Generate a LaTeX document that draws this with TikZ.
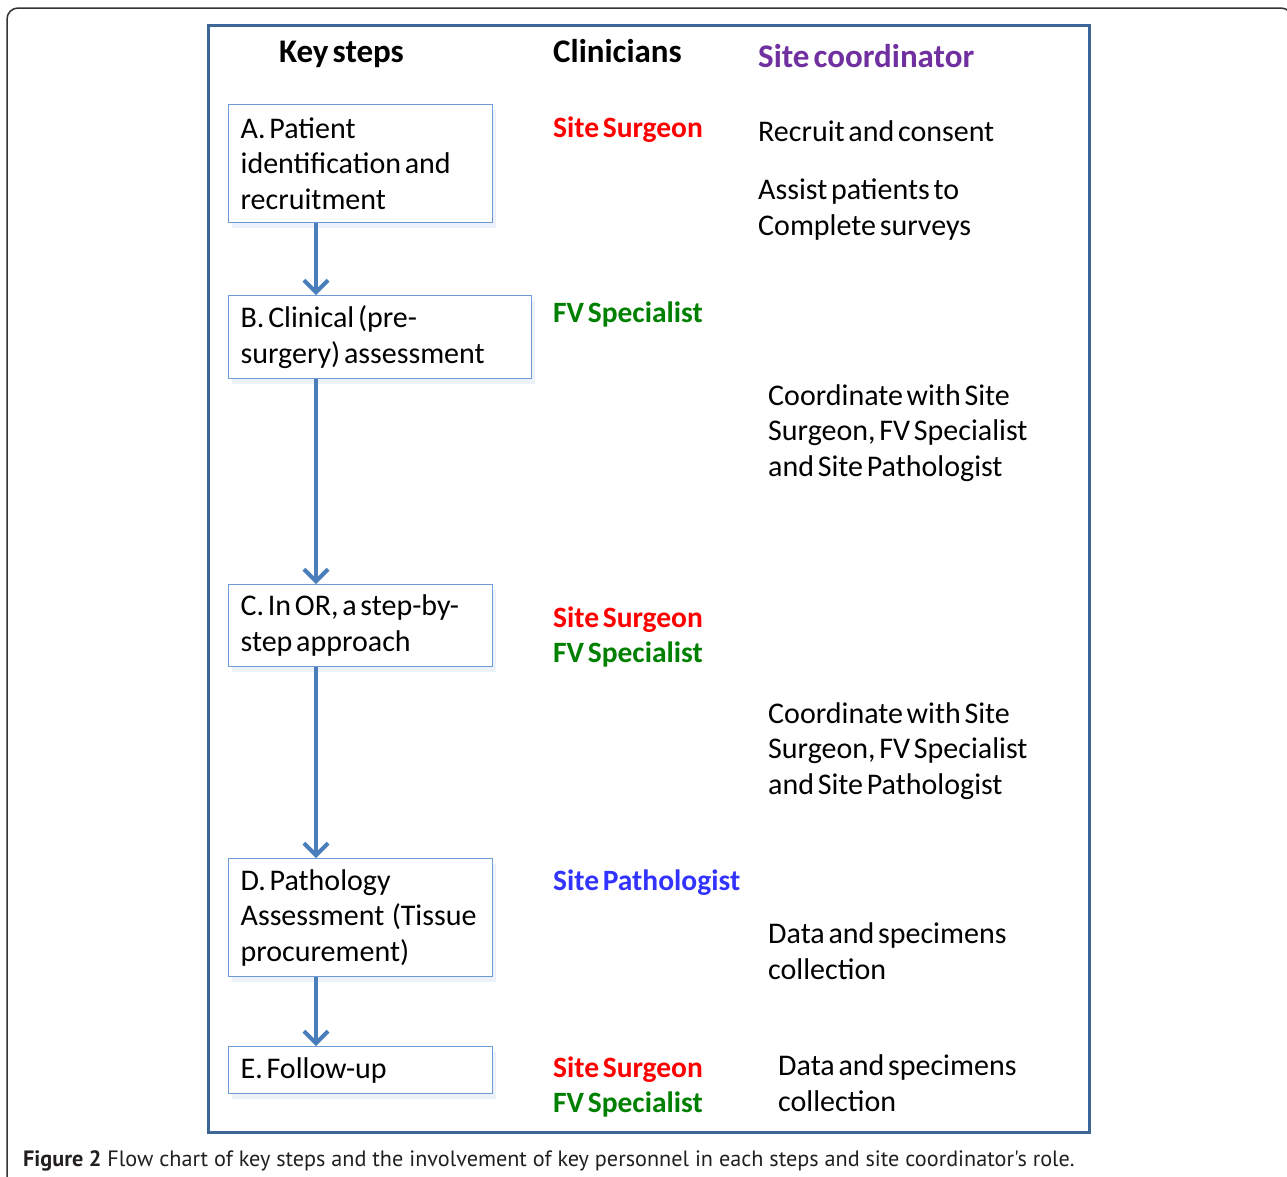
\documentclass[tikz,border=0pt]{standalone}
\usepackage{fontspec}
\setmainfont{Carlito}[WordSpace=0.55]
\newfontfamily\captionfont{PT Sans}
\usepackage{xcolor}
\usetikzlibrary{arrows.meta, calc, positioning, shadows}
\definecolor{frameblue}{RGB}{61,101,150}
\definecolor{arrowblue}{RGB}{74,126,187}
\definecolor{boxblue}{RGB}{110,155,214}
\definecolor{surgeonred}{RGB}{255,0,0}
\definecolor{specgreen}{RGB}{0,128,0}
\definecolor{pathblue}{RGB}{51,51,255}
\definecolor{coordpurple}{RGB}{112,48,160}
\definecolor{captiongray}{RGB}{35,31,32}
\frenchspacing

\tikzset{
    stepbox/.style={draw=boxblue, line width=1.3pt, fill=white, anchor=north west,
        align=flush left, inner xsep=12pt, inner ysep=0pt,
        font=\fontsize{30}{35.5}\selectfont,
        drop shadow={opacity=0.12, shadow xshift=3pt, shadow yshift=-5pt, fill=boxblue}},
    steparrow/.style={arrowblue, line width=4pt, -{Straight Barb[length=12pt, width=24pt, line width=4pt]}},
    heading/.style={anchor=base west, inner sep=0pt, font=\fontsize{33}{35}\selectfont\bfseries},
    person/.style={anchor=base west, inner sep=0pt, align=left, font=\fontsize{29.5}{35}\selectfont\bfseries},
    duty/.style={anchor=base west, inner sep=0pt, align=left, font=\fontsize{30}{35.5}\selectfont},
}

\begin{document}
\begin{tikzpicture}[x=1pt, y=-1pt]
    \useasboundingbox (0,0) rectangle (1287,1176);
    \fill[white] (0,0) rectangle (1287,1176);
    % page frames
    \draw[black!80, line width=1.5pt, rounded corners=11pt] (7,1200) -- (7,8) -- (1292,8) -- (1292,1200);
    \draw[frameblue, line width=3pt] (208,25) rectangle (1089,1132);

    % column headings
    \node[heading] (hsteps) at (279,62) {Key steps};
    \node[heading] (hclin) at (553,62) {Clinicians};
    \node[heading, coordpurple] (hcoord) at (758,67) {Site coordinator};

    % key steps
    \node[stepbox, text width=240pt, minimum height=118pt] (A) at (228,104) {A. Patient\\identification and\\recruitment};
    \node[stepbox, text width=279pt, minimum height=83pt] (B) at (228,295) {B. Clinical (pre-\\surgery) assessment};
    \node[stepbox, text width=240pt, minimum height=82pt] (C) at (228,584) {C. In OR, a step-by-\\step approach};
    \node[stepbox, text width=240pt, minimum height=118pt] (D) at (228,858) {D. Pathology\\Assessment~ (Tissue\\procurement)};
    \node[stepbox, text width=240pt, minimum height=47pt] (E) at (228,1046) {E. Follow-up};

    \foreach \from/\to in {A/B, B/C, C/D, D/E}
        \draw[steparrow] ([xshift=88pt]\from.south west) -- ([xshift=88pt]\to.north west);

    % clinicians (multi-line texts sit on their last line)
    \node[person, surgeonred] (surgA) at (553,137) {Site Surgeon};
    \node[person, specgreen] (specB) at (553,322) {FV Specialist};
    \node[person] (clinC) at (553,662) {\textcolor{surgeonred}{Site Surgeon}\\\textcolor{specgreen}{FV Specialist}};
    \node[person, pathblue] (pathD) at (553,890) {Site Pathologist};
    \node[person] (clinE) at (553,1112) {\textcolor{surgeonred}{Site Surgeon}\\\textcolor{specgreen}{FV Specialist}};

    % site coordinator
    \node[duty] (recruit) at (758,141) {Recruit and consent};
    \node[duty] (assist) at (758,235) {Assist patients to\\Complete surveys};
    \node[duty] (coordB) at (768,476) {Coordinate with Site\\Surgeon, FV Specialist\\and Site Pathologist};
    \node[duty] (coordC) at (768,794) {Coordinate with Site\\Surgeon, FV Specialist\\and Site Pathologist};
    \node[duty] (dataD) at (768,979) {Data and specimens\\collection};
    \node[duty] (dataE) at (778,1111) {Data and specimens\\collection};

    % caption
    \node[anchor=base west, inner sep=0pt, captiongray, font=\captionfont\fontsize{22.2}{24}\selectfont] (caption) at (23,1166)
        {\textbf{Figure 2} Flow chart of key steps and the involvement of key personnel in each steps and site coordinator's role.};
\end{tikzpicture}
\end{document}
